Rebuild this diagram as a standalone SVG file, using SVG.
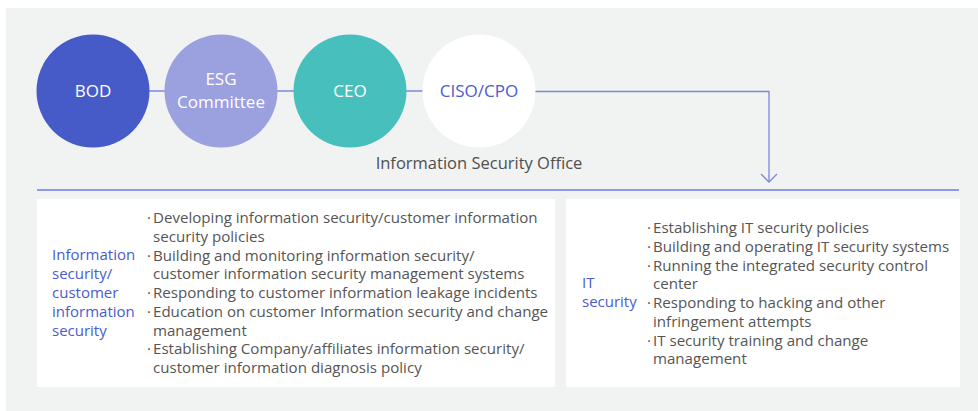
<svg xmlns="http://www.w3.org/2000/svg" width="978" height="411" viewBox="0 0 978 411">
<style>
.t{font-family:"Open Sans","Noto Sans",sans-serif;}
.c{font-size:17px;text-anchor:middle;}
.w{fill:#ffffff;}
.b{font-size:15.1px;fill:#555555;}
.l{font-size:15px;fill:#4a5bd0;}
.ln{stroke:#7b87dc;stroke-width:1.3;fill:none;}
</style>
<rect x="6" y="8" width="972" height="403" fill="#f1f2f2"/>
<g id="connectors">
<line class="ln" x1="149" y1="91" x2="535" y2="91"/>
<polyline class="ln" points="535,91.5 769,91.5 769,182"/>
<polyline class="ln" points="761,174 769,182 777,174"/>
<line x1="37" y1="190" x2="959" y2="190" stroke="#8f9ae2" stroke-width="1.8"/>
</g>
<g id="bod"><circle cx="93" cy="91" r="56.5" fill="#465bc8"/><text class="t c w" x="93" y="97">BOD</text></g>
<g id="esg"><circle cx="221" cy="91" r="56.5" fill="#9ba0df"/><text class="t c w" x="221" y="85">ESG</text><text class="t c w" x="221" y="108">Committee</text></g>
<g id="ceo"><circle cx="350" cy="91" r="56.5" fill="#47bfbd"/><text class="t c w" x="350" y="97">CEO</text></g>
<g id="ciso"><circle cx="479" cy="91" r="56.5" fill="#ffffff"/><text class="t c" x="479" y="97" fill="#4a5bd0">CISO/CPO</text></g>
<g id="office"><text class="t" x="479" y="169" font-size="16.5" fill="#4f4f4f" text-anchor="middle">Information Security Office</text></g>
<g id="info-sec">
<rect x="37" y="199" width="518" height="188" fill="#ffffff"/>
<text class="t l" x="52" y="260">Information</text>
<text class="t l" x="52" y="279">security/</text>
<text class="t l" x="52" y="298">customer</text>
<text class="t l" x="52" y="317">information</text>
<text class="t l" x="52" y="336">security</text>
<text class="t b" x="147" y="223">·<tspan x="153">Developing information security/customer information</tspan></text>
<text class="t b" x="153" y="241.75">security policies</text>
<text class="t b" x="147" y="260.5">·<tspan x="153">Building and monitoring information security/</tspan></text>
<text class="t b" x="153" y="279.25">customer information security management systems</text>
<text class="t b" x="147" y="298">·<tspan x="153">Responding to customer information leakage incidents</tspan></text>
<text class="t b" x="147" y="316.75">·<tspan x="153">Education on customer Information security and change</tspan></text>
<text class="t b" x="153" y="335.5">management</text>
<text class="t b" x="147" y="354.25">·<tspan x="153">Establishing Company/affiliates information security/</tspan></text>
<text class="t b" x="153" y="373">customer information diagnosis policy</text>
</g>
<g id="it-sec">
<rect x="566" y="199" width="394" height="188" fill="#ffffff"/>
<text class="t l" x="582" y="288">IT</text>
<text class="t l" x="582" y="307">security</text>
<text class="t b" x="647" y="233">·<tspan x="653">Establishing IT security policies</tspan></text>
<text class="t b" x="647" y="251.75">·<tspan x="653">Building and operating IT security systems</tspan></text>
<text class="t b" x="647" y="270.5">·<tspan x="653">Running the integrated security control</tspan></text>
<text class="t b" x="653" y="289.25">center</text>
<text class="t b" x="647" y="308">·<tspan x="653">Responding to hacking and other</tspan></text>
<text class="t b" x="653" y="326.75">infringement attempts</text>
<text class="t b" x="647" y="345.5">·<tspan x="653">IT security training and change</tspan></text>
<text class="t b" x="653" y="364.25">management</text>
</g>
</svg>
